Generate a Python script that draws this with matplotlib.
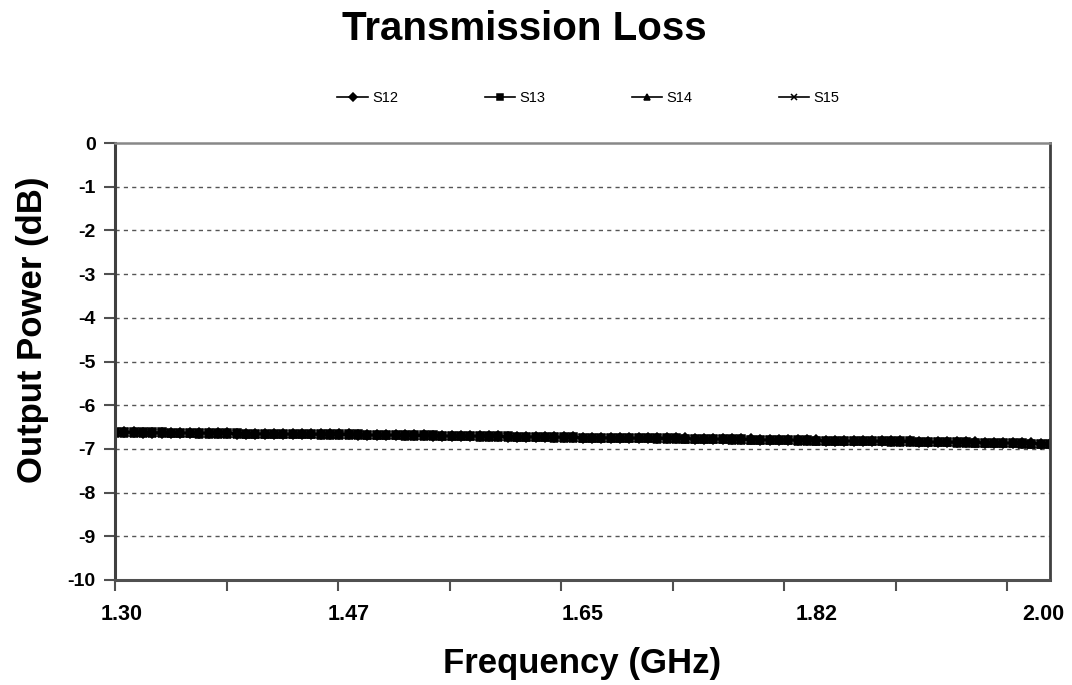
import numpy as np
import matplotlib.pyplot as plt

# frequency sweep, GHz (101 points from 1.30 to 2.00)
freq = np.linspace(1.30, 2.00, 101)

s12 = [-6.62, -6.62, -6.62, -6.63, -6.63, -6.63, -6.63, -6.63, -6.64, -6.64,
       -6.64, -6.64, -6.64, -6.65, -6.65, -6.65, -6.65, -6.65, -6.66, -6.66,
       -6.66, -6.66, -6.67, -6.67, -6.67, -6.67, -6.68, -6.68, -6.68, -6.68,
       -6.69, -6.69, -6.69, -6.69, -6.70, -6.70, -6.70, -6.70, -6.71, -6.71,
       -6.71, -6.71, -6.72, -6.72, -6.72, -6.72, -6.73, -6.73, -6.73, -6.73,
       -6.74, -6.74, -6.74, -6.74, -6.75, -6.75, -6.75, -6.75, -6.76, -6.76,
       -6.76, -6.76, -6.77, -6.77, -6.77, -6.78, -6.78, -6.78, -6.78, -6.79,
       -6.79, -6.79, -6.80, -6.80, -6.80, -6.80, -6.81, -6.81, -6.81, -6.82,
       -6.82, -6.82, -6.82, -6.83, -6.83, -6.83, -6.84, -6.84, -6.84, -6.85,
       -6.85, -6.85, -6.85, -6.86, -6.86, -6.86, -6.87, -6.87, -6.87, -6.88,
       -6.88]
s13 = [-6.61, -6.61, -6.62, -6.62, -6.62, -6.62, -6.63, -6.63, -6.63, -6.63,
       -6.64, -6.64, -6.64, -6.64, -6.65, -6.65, -6.65, -6.65, -6.65, -6.66,
       -6.66, -6.66, -6.66, -6.67, -6.67, -6.67, -6.67, -6.68, -6.68, -6.68,
       -6.68, -6.69, -6.69, -6.69, -6.69, -6.70, -6.70, -6.70, -6.70, -6.71,
       -6.71, -6.71, -6.71, -6.72, -6.72, -6.72, -6.72, -6.73, -6.73, -6.73,
       -6.74, -6.74, -6.74, -6.74, -6.75, -6.75, -6.75, -6.75, -6.76, -6.76,
       -6.76, -6.77, -6.77, -6.77, -6.77, -6.78, -6.78, -6.78, -6.79, -6.79,
       -6.79, -6.79, -6.80, -6.80, -6.80, -6.81, -6.81, -6.81, -6.81, -6.82,
       -6.82, -6.82, -6.83, -6.83, -6.83, -6.83, -6.84, -6.84, -6.84, -6.85,
       -6.85, -6.85, -6.86, -6.86, -6.86, -6.86, -6.87, -6.87, -6.88, -6.88,
       -6.89]
s14 = [-6.63, -6.63, -6.63, -6.63, -6.64, -6.64, -6.64, -6.64, -6.64, -6.65,
       -6.65, -6.65, -6.65, -6.66, -6.66, -6.66, -6.66, -6.66, -6.67, -6.67,
       -6.67, -6.67, -6.68, -6.68, -6.68, -6.68, -6.68, -6.69, -6.69, -6.69,
       -6.69, -6.70, -6.70, -6.70, -6.70, -6.71, -6.71, -6.71, -6.71, -6.72,
       -6.72, -6.72, -6.72, -6.73, -6.73, -6.73, -6.73, -6.74, -6.74, -6.74,
       -6.74, -6.75, -6.75, -6.75, -6.75, -6.76, -6.76, -6.76, -6.77, -6.77,
       -6.77, -6.77, -6.78, -6.78, -6.78, -6.78, -6.79, -6.79, -6.79, -6.80,
       -6.80, -6.80, -6.80, -6.81, -6.81, -6.81, -6.82, -6.82, -6.82, -6.82,
       -6.83, -6.83, -6.83, -6.84, -6.84, -6.84, -6.84, -6.85, -6.85, -6.85,
       -6.86, -6.86, -6.86, -6.87, -6.87, -6.87, -6.87, -6.88, -6.88, -6.88,
       -6.89]
s15 = [-6.62, -6.62, -6.63, -6.63, -6.63, -6.63, -6.64, -6.64, -6.64, -6.64,
       -6.64, -6.65, -6.65, -6.65, -6.65, -6.66, -6.66, -6.66, -6.66, -6.67,
       -6.67, -6.67, -6.67, -6.67, -6.68, -6.68, -6.68, -6.68, -6.69, -6.69,
       -6.69, -6.69, -6.70, -6.70, -6.70, -6.70, -6.71, -6.71, -6.71, -6.71,
       -6.72, -6.72, -6.72, -6.72, -6.73, -6.73, -6.73, -6.73, -6.74, -6.74,
       -6.74, -6.75, -6.75, -6.75, -6.75, -6.76, -6.76, -6.76, -6.76, -6.77,
       -6.77, -6.77, -6.78, -6.78, -6.78, -6.78, -6.79, -6.79, -6.79, -6.79,
       -6.80, -6.80, -6.80, -6.81, -6.81, -6.81, -6.81, -6.82, -6.82, -6.82,
       -6.83, -6.83, -6.83, -6.83, -6.84, -6.84, -6.84, -6.85, -6.85, -6.85,
       -6.85, -6.86, -6.86, -6.86, -6.87, -6.87, -6.87, -6.88, -6.88, -6.88,
       -6.88]

series = {"S12": s12, "S13": s13, "S14": s14, "S15": s15}
markers = {"S12": "D", "S13": "s", "S14": "^", "S15": "x"}
msizes = {"S12": 5.2, "S13": 5.8, "S14": 6.2, "S15": 5.5}

# tick marks (unlabelled) and label positions as in the original category axis
tick_marks = [1.30 + 0.0835 * i for i in range(9)]
label_pos = [1.305, 1.475, 1.65, 1.825, 1.995]
x_labels = ["1.30", "1.47", "1.65", "1.82", "2.00"]
y_ticks = list(range(0, -11, -1))

plt.rcParams['font.family'] = ['Liberation Sans', 'DejaVu Sans']

fig = plt.figure(figsize=(10.72, 6.85), dpi=100)
ax = fig.add_axes([0.1073, 0.1533, 0.8722, 0.6379])

for name, vals in series.items():
    ax.plot(freq, vals, color="black", linewidth=1.2, marker=markers[name],
            markersize=msizes[name], markeredgewidth=1.1, label=name)

ax.set_xlim(1.30, 2.00)
ax.set_ylim(-10, 0)
ax.set_xticks(tick_marks)
ax.set_xticklabels([""] * len(tick_marks))
ax.set_xticks(label_pos, minor=True)
ax.set_xticklabels(x_labels, minor=True, fontsize=15.5, fontweight="bold")
ax.set_yticks(y_ticks)
ax.set_yticklabels([str(v) for v in y_ticks], fontsize=14, fontweight="bold")
ax.tick_params(axis="x", which="major", direction="out", length=8, width=1.5, color="#505050")
ax.tick_params(axis="x", which="minor", length=0, pad=17)
ax.tick_params(axis="y", direction="out", length=8, width=1.5, color="#505050", pad=6)

for y in range(-1, -10, -1):
    ax.axhline(y, color="#555555", linewidth=1.0, linestyle=(0, (3, 3)), zorder=0)

ax.spines["left"].set_color("#404040")
ax.spines["left"].set_linewidth(2.2)
ax.spines["bottom"].set_color("#505050")
ax.spines["bottom"].set_linewidth(2.2)
ax.spines["top"].set_color("#888888")
ax.spines["top"].set_linewidth(1.8)
ax.spines["right"].set_color("#404040")
ax.spines["right"].set_linewidth(2.0)

ax.set_xlabel("Frequency (GHz)", fontsize=25, fontweight="bold", labelpad=16)
ax.set_ylabel("Output Power (dB)", fontsize=25, fontweight="bold")
ax.yaxis.set_label_coords(-0.071, 0.572)

fig.text(0.489, 0.957, "Transmission Loss", ha="center", va="center",
         fontsize=29, fontweight="bold")

fig.legend(loc="center", bbox_to_anchor=(0.549, 0.857), ncol=4, frameon=False,
           fontsize=10.5, handlelength=2.1, handletextpad=0.3, columnspacing=5.9,
           markerscale=0.75)

fig.savefig("out.png", dpi=100)
